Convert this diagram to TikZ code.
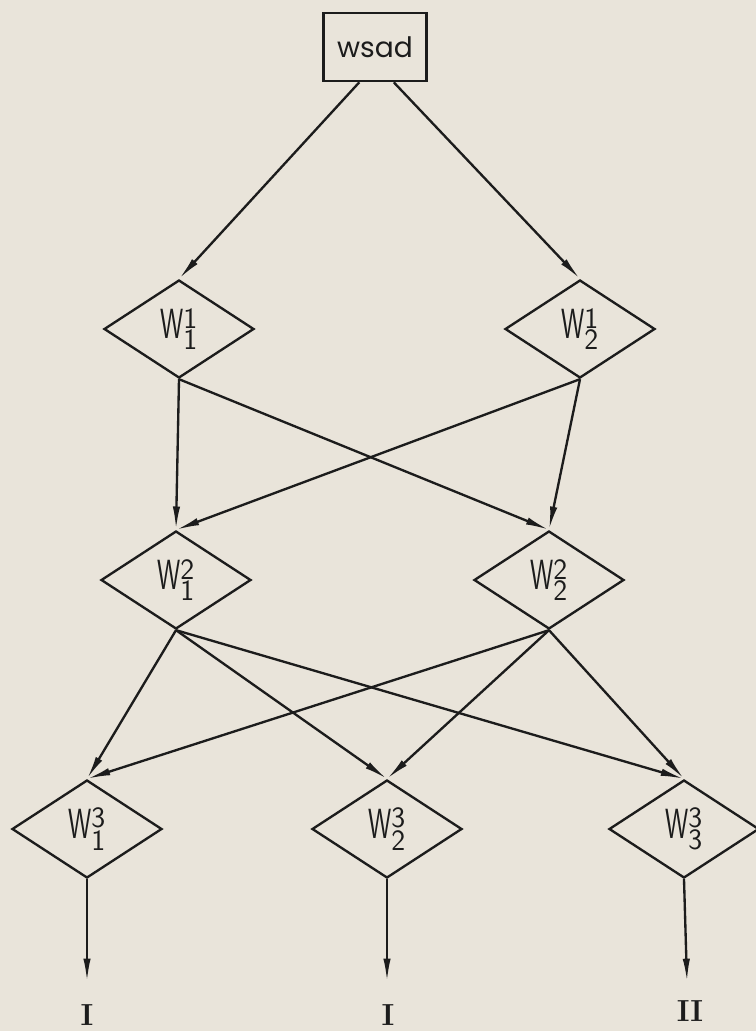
\documentclass[tikz,border=0pt]{standalone}
\usepackage{fontspec}
\usepackage{graphicx}
\newfontfamily\draftfont{Poppins}
\usetikzlibrary{shapes.geometric, arrows.meta, positioning}
\definecolor{paper}{RGB}{233,228,218}
\definecolor{ink}{RGB}{28,28,28}
\newcommand{\wlab}[2]{\scalebox{0.62}[1]{$\mathsf{W}$}$^{\mathsf{#2}}_{\mathsf{#1}}$}

\begin{document}
\begin{tikzpicture}[
    x=0.03cm, y=-0.03cm,
    arr/.style={draw=ink, line width=2pt, -{Latex[length=7mm, width=2.2mm]}},
    inbox/.style={draw=ink, line width=2.2pt, minimum width=3.09cm, minimum height=2.04cm,
                  font=\draftfont\fontsize{24}{26}\selectfont, text=ink},
    stage/.style={draw=ink, line width=2pt, diamond, minimum width=4.5cm, minimum height=2.94cm,
                  inner sep=0pt, font=\sffamily\fontsize{36}{40}\selectfont, text=ink},
    outlabel/.style={font=\bfseries\fontsize{26}{28}\selectfont, text=ink, anchor=north, inner sep=0pt}
]
\fill[paper] (0,0) rectangle (756,1031);
\useasboundingbox (0,0) rectangle (756,1031);

% input
\node[inbox] (wsad) at (375,47) {wsad};

% stages
\node[stage] (w11) at (179,329) {\wlab{1}{1}};
\node[stage] (w21) at (580,329) {\wlab{2}{1}};
\node[stage] (w12) at (176,580) {\wlab{1}{2}};
\node[stage] (w22) at (549,580) {\wlab{2}{2}};
\node[stage] (w13) at (87,829)  {\wlab{1}{3}};
\node[stage] (w23) at (387,829) {\wlab{2}{3}};
\node[stage] (w33) at (684,829) {\wlab{3}{3}};

% outputs
\coordinate (e1) at (87,982);
\coordinate (e2) at (387,982);
\coordinate (e3) at (687,982);
\node[outlabel] (o1) at (87,1004)  {I};
\node[outlabel] (o2) at (388,1004) {I};
\node[outlabel] (o3) at (690,1000) {II};

\draw[arr] (wsad.246) -- (w11.north);
\draw[arr] (wsad.298) -- (w21.north);

\draw[arr] (w11.south) -- (w12.north);
\draw[arr] (w11.south) -- (w22.north);
\draw[arr] (w21.south) -- (w22.north);
\draw[arr] (w21.south) -- (w12.north);

\foreach \s in {w12, w22}
  \foreach \t in {w13, w23, w33}
    \draw[arr] (\s.south) -- (\t.north);

\draw[arr] (w13.south) -- (e1);
\draw[arr] (w23.south) -- (e2);
\draw[arr] (w33.south) -- (e3);
\end{tikzpicture}
\end{document}
